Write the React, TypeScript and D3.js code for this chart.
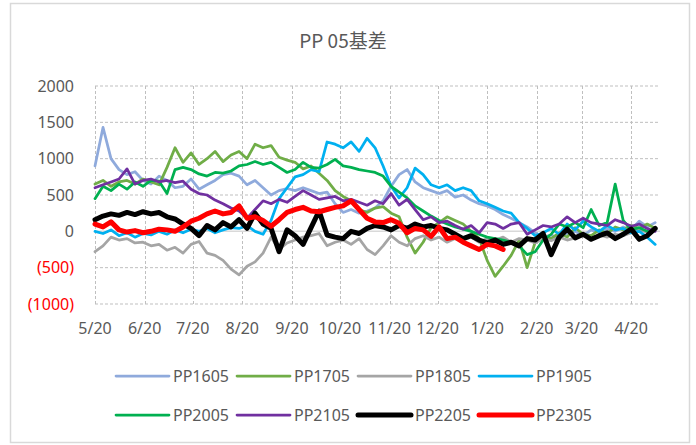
import * as d3 from 'd3';

const title = 'PP 05基差';
const startDate = '2022-05-20';
const endDate = '2023-05-08';
const stepDays = 5;
const tickDates = [
  '2022-05-20', '2022-06-20', '2022-07-20', '2022-08-20', '2022-09-20', '2022-10-20',
  '2022-11-20', '2022-12-20', '2023-01-20', '2023-02-20', '2023-03-20', '2023-04-20',
];
const yTicks = [-1000, -500, 0, 500, 1000, 1500, 2000];

const pp1605 = [
  900, 1430, 1000, 850, 780, 820, 700, 650, 760, 700, 600, 620, 720, 580, 640, 700, 780, 800, 760, 640,
  700, 600, 500, 560, 590, 560, 600, 560, 520, 540, 380, 260, 300, 250, 280, 320, 420, 620, 780, 850,
  680, 600, 560, 520, 560, 470, 500, 430, 380, 350, 300, 230, 180, 120, 60, -20, -80, -50, -100, -30,
  0, -60, 20, -20, 40, 0, 60, 20, 140, 60, 120,
];
const pp1705 = [
  650, 700, 620, 680, 700, 650, 720, 680, 640, 880, 1150, 950, 1080, 920, 1000, 1100, 960, 1050, 1100, 1000,
  1200, 1150, 1180, 1020, 980, 950, 860, 900, 800, 700, 560, 480, 420, 300, 260, 320, 340, 250, 200, -80,
  -300, -150, 50, 120, 200, 150, 100, 0, -100, -400, -620, -480, -330, -120, -500, -150, -60, -100, -20, -80,
  50, -40, -60, 20, -30, 60, 20, 80, 40, 100, 40,
];
const pp1805 = [
  -280, -200, -80, -120, -100, -160, -150, -200, -180, -260, -220, -300, -180, -140, -300, -330, -400, -520, -600, -480,
  -420, -300, -80, -250, -160, -120, -80, -60, -30, -200, -150, -120, -180, -100, -250, -320, -200, -60, -150, -200,
  -100, -60, -120, -80, -150, -100, -120, -80, -150, -100, -120, -80, -150, -100, -120, -160, -100, -130, -80, -120,
  -90, -60, -100, -50, -80, -40, -60, -20, 20, -10, 30,
];
const pp1905 = [
  0, -30, 20, -60, -20, -80, -30, -50, 0, -40, 20, -20, 30, 0, 40, -20, 20, 50, 40, 80,
  0, -40, 150, 450, 600, 750, 780, 850, 820, 1230, 1200, 1150, 1230, 1100, 1280, 1150, 900, 620, 460, 600,
  870, 780, 640, 600, 640, 560, 600, 560, 420, 380, 330, 280, 250, 120, 40, -60, -20, 40, -40, 100,
  20, 140, 60, 0, 80, 20, 40, -20, 0, -80, -180,
];
const pp2005 = [
  450, 620, 560, 650, 580, 680, 620, 700, 690, 520, 850, 880, 850, 790, 760, 810, 800, 830, 900, 920,
  960, 920, 950, 880, 810, 850, 950, 880, 870, 920, 990, 900, 880, 850, 830, 810, 760, 620, 540, 460,
  350, 280, 210, 150, 100, 60, 30, 0, -40, -80, -100, -120, -150, -200, -320, -280, -120, -40, 100, 60,
  120, 50, 300, 80, 120, 650, 150, 20, 50, 0, 30,
];
const pp2105 = [
  600, 640, 680, 720, 860, 650, 700, 720, 680, 700, 670, 690, 580, 520, 500, 430, 380, 320, 280, 180,
  300, 420, 380, 440, 400, 480, 560, 500, 440, 460, 480, 420, 440, 400, 360, 420, 380, 520, 360, 440,
  300, 160, 200, 120, 140, 80, 30, 80, -20, 120, 100, 40, 100, 120, -40, 20, 80, 60, 100, 200,
  120, 180, 120, 100, 80, 160, 120, 70, 100, 40, 0,
];
const pp2205 = [
  160, 210, 240, 220, 260, 230, 270, 240, 260, 200, 170, 100, 40, -60, 80, 20, 120, 60, 160, 40,
  250, 100, 40, -280, 20, -60, -180, 50, 280, -50, -80, -100, 0, -30, 40, 80, 60, 20, 80, 40,
  100, 60, 80, 40, 20, -40, -100, -60, -120, -160, -120, -180, -150, -200, -100, -120, -30, -320, -80, 30,
  -90, -40, -110, -60, -20, -100, -40, 30, -110, -60, 40,
];
const pp2305 = [
  100, 60, 130, 20, -10, 10, -20, 0, 30, 20, 0, 60, 140, 180, 240, 280, 240, 260, 350, 180,
  200, 150, 70, 160, 260, 300, 330, 280, 270, 300, 330, 350, 420, 300, 180, 130, 120, 160, 110, -20,
  40, 20, -70, 60, -100, -80, -150, -200, -250, -180, -200, -250,
];

const seriesNames = ['PP1605', 'PP1705', 'PP1805', 'PP1905', 'PP2005', 'PP2105', 'PP2205', 'PP2305'];
const seriesValues = [pp1605, pp1705, pp1805, pp1905, pp2005, pp2105, pp2205, pp2305];
const seriesColors = ['#8FAADC', '#70AD47', '#A5A5A5', '#00B0F0', '#00B050', '#7030A0', '#000000', '#FF0000'];
const seriesWidths = [2.75, 2.75, 2.75, 2.75, 2.75, 2.75, 5, 5];

const W = 696;
const H = 445;
const plot = { left: 95, right: 660, top: 86, bottom: 304 };
const font = '"Noto Sans", "Noto Sans CJK SC", sans-serif';

export default function App() {
  const parse = d3.utcParse('%Y-%m-%d');
  const t0 = parse(startDate) as Date;

  const x = d3.scaleUtc()
    .domain([t0, parse(endDate) as Date])
    .range([plot.left, plot.right]);

  const y = d3.scaleLinear()
    .domain([-1000, 2000])
    .range([plot.bottom, plot.top]);

  const line = d3.line<number>()
    .x((_, i) => x(d3.utcDay.offset(t0, i * stepDays)))
    .y(d => y(d));

  const fmtTick = d3.utcFormat('%-m/%-d');
  const fmtY = (v: number) => (v < 0 ? `(${Math.abs(v)})` : `${v}`);

  return (
    <div style={{ position: 'absolute', left: 0, top: 0 }}>
      <svg width={W} height={H} style={{ display: 'block', background: '#fff' }}>
        <rect x={10.5} y={3.5} width={679} height={439} fill="#fff" stroke="#D9D9D9" strokeWidth={1.5} />

        <text x={343} y={48} textAnchor="middle" fontFamily='"Noto Sans CJK SC", sans-serif'
          fontSize={19} fill="#595959">{title}</text>

        {/* grid */}
        {yTicks.filter(v => v !== 0).map(v => (
          <line key={'h' + v} x1={plot.left} x2={plot.right} y1={y(v)} y2={y(v)}
            stroke="#BFBFBF" strokeWidth={1} strokeDasharray="3,2" />
        ))}
        {tickDates.map(d => {
          const px = Math.round(x(parse(d) as Date)) + 0.5;
          return (
            <line key={'v' + d} x1={px} x2={px} y1={plot.top} y2={plot.bottom}
              stroke="#BFBFBF" strokeWidth={1} strokeDasharray="3,2" />
          );
        })}
        <line x1={plot.left} x2={plot.right} y1={y(0)} y2={y(0)} stroke="#D9D9D9" strokeWidth={1.5} />

        {/* y labels */}
        {yTicks.map(v => (
          <text key={'yl' + v} x={74} y={y(v) + 5.5} textAnchor="end" fontFamily={font} fontSize={16}
            fill={v < 0 ? '#FF0000' : '#595959'}>{fmtY(v)}</text>
        ))}

        {/* x labels */}
        {tickDates.map(d => (
          <text key={'xl' + d} x={x(parse(d) as Date)} y={334} textAnchor="middle" fontFamily={font}
            fontSize={16} fill="#595959">{fmtTick(parse(d) as Date)}</text>
        ))}

        {/* series */}
        {seriesValues.map((vals, i) => (
          <path key={seriesNames[i]} d={line(vals) ?? ''} fill="none" stroke={seriesColors[i]}
            strokeWidth={seriesWidths[i]} strokeLinejoin="round" strokeLinecap="round" />
        ))}

        {/* legend */}
        {seriesNames.map((name, i) => {
          const lx = 116 + (i % 4) * 121;
          const ly = i < 4 ? 376 : 415;
          return (
            <g key={'lg' + name}>
              <line x1={lx} x2={lx + 53} y1={ly} y2={ly} stroke={seriesColors[i]}
                strokeWidth={seriesWidths[i]} strokeLinecap="round" />
              <text x={lx + 57} y={ly + 5.5} fontFamily={font} fontSize={16} fill="#595959">{name}</text>
            </g>
          );
        })}
      </svg>
    </div>
  );
}
